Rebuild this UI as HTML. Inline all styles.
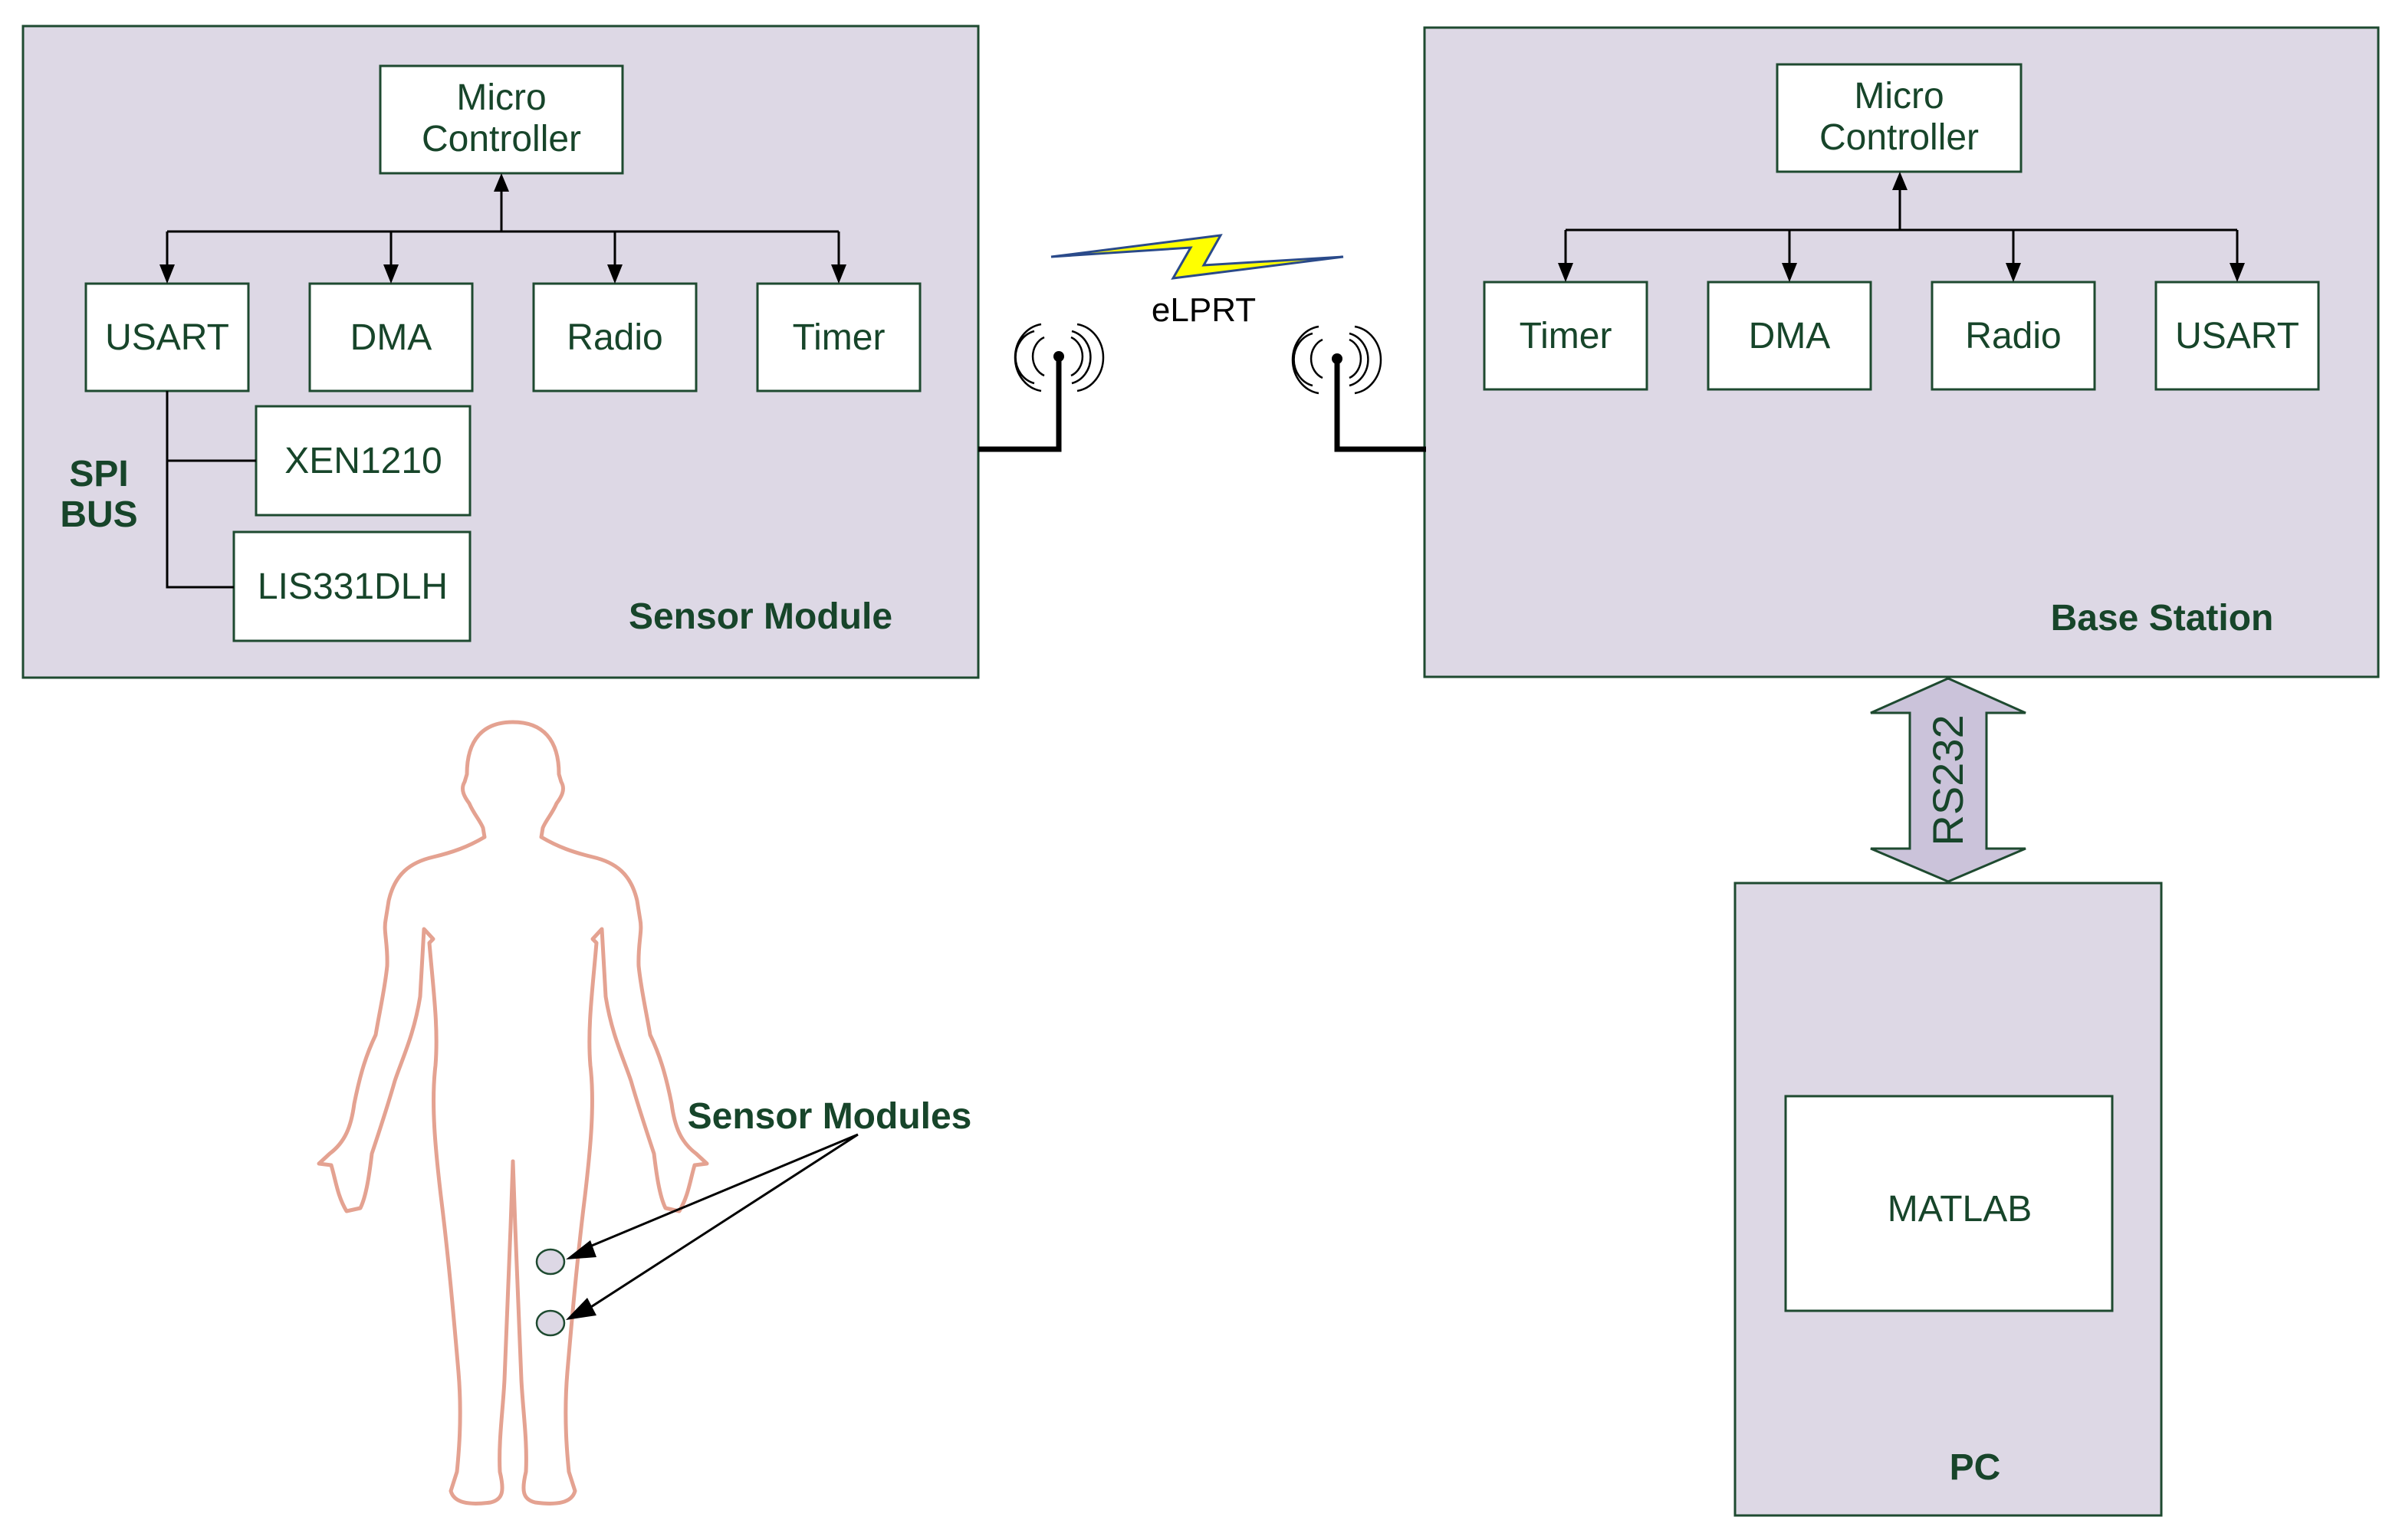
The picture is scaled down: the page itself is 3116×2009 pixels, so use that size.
<!DOCTYPE html>
<html><head><meta charset="utf-8"><style>
html,body{margin:0;padding:0;background:#fff;}
svg{display:block;}
text{font-family:"Liberation Sans",Arial,sans-serif;fill:#17452a;}
</style></head><body>
<svg width="3116" height="2009" viewBox="0 0 3116 2009" xmlns="http://www.w3.org/2000/svg">
<g stroke="#1e4a30" stroke-width="3">
<rect x="30" y="34" width="1246" height="850" fill="#ddd8e5"/>
<rect x="1858" y="36" width="1244" height="847" fill="#ddd8e5"/>
<rect x="2263" y="1152" width="556" height="825" fill="#ddd8e5"/>
<g fill="#fff">
<rect x="496" y="86" width="316" height="140"/>
<rect x="112" y="370" width="212" height="140"/>
<rect x="404" y="370" width="212" height="140"/>
<rect x="696" y="370" width="212" height="140"/>
<rect x="988" y="370" width="212" height="140"/>
<rect x="334" y="530" width="279" height="142"/>
<rect x="305" y="694" width="308" height="142"/>
<rect x="2318" y="84" width="318" height="140"/>
<rect x="1936" y="368" width="212" height="140"/>
<rect x="2228" y="368" width="212" height="140"/>
<rect x="2520" y="368" width="212" height="140"/>
<rect x="2812" y="368" width="212" height="140"/>
<rect x="2329" y="1430" width="426" height="280"/>
</g>
</g>
<g stroke="#000" stroke-width="3" fill="none">
<path d="M218 302 H1094 M654 302 V240 M218 302 V345 M510 302 V345 M802 302 V345 M1094 302 V345"/>
<path d="M218 510 V766 H305 M218 601 H334"/>
<path d="M2042 300 H2918 M2478 300 V238 M2042 300 V343 M2334 300 V343 M2626 300 V343 M2918 300 V343"/>
</g>
<g fill="#000">
<polygon points="654,226 644,250 664,250"/>
<polygon points="218,370 208,345 228,345"/><polygon points="510,370 500,345 520,345"/>
<polygon points="802,370 792,345 812,345"/><polygon points="1094,370 1084,345 1104,345"/>
<polygon points="2478,224 2468,248 2488,248"/>
<polygon points="2042,368 2032,343 2052,343"/><polygon points="2334,368 2324,343 2344,343"/>
<polygon points="2626,368 2616,343 2636,343"/><polygon points="2918,368 2908,343 2928,343"/>
</g>
<g font-size="48" text-anchor="middle">
<text x="654" y="143">Micro</text>
<text x="654" y="197">Controller</text>
<text x="218" y="456">USART</text>
<text x="510" y="456">DMA</text>
<text x="802" y="456">Radio</text>
<text x="1094" y="456">Timer</text>
<text x="474" y="617">XEN1210</text>
<text x="460" y="781">LIS331DLH</text>
<text x="2477" y="141">Micro</text>
<text x="2477" y="195">Controller</text>
<text x="2042" y="454">Timer</text>
<text x="2334" y="454">DMA</text>
<text x="2626" y="454">Radio</text>
<text x="2918" y="454">USART</text>
<text x="2556" y="1593">MATLAB</text>
</g>
<g font-size="48" font-weight="bold" text-anchor="middle">
<text x="129" y="634">SPI</text>
<text x="129" y="687">BUS</text>
<text x="992" y="820">Sensor Module</text>
<text x="2820" y="822">Base Station</text>
<text x="2576" y="1930">PC</text>
<text x="1082" y="1472">Sensor Modules</text>
</g>
<polygon points="1371,335 1592,307 1570,346 1752,335 1530,363 1553,323" fill="#ffff00" stroke="#2a4a8a" stroke-width="3"/>
<text x="1570" y="419" font-size="44" text-anchor="middle" style="fill:#000">eLPRT</text>
<g stroke="#000" fill="none">
<path d="M1276 586 H1381 V468 M1860 586 H1744 V468" stroke-width="7"/>
<g stroke-width="2.5">
<path d="M1358 423 A40 44 0 0 0 1358 510 M1349 432 A32 35 0 0 0 1349 500 M1362 440 A24 27 0 0 0 1362 490"/>
<path d="M1405 423 A40 44 0 0 1 1405 510 M1398 432 A32 35 0 0 1 1398 500 M1397 440 A24 27 0 0 1 1397 490"/>
<path d="M1720 426 A40 44 0 0 0 1720 513 M1712 435 A32 35 0 0 0 1712 503 M1725 443 A24 27 0 0 0 1725 493"/>
<path d="M1767 426 A40 44 0 0 1 1767 513 M1760 435 A32 35 0 0 1 1760 503 M1760 443 A24 27 0 0 1 1760 493"/>
</g>
</g>
<circle cx="1381" cy="465" r="7" fill="#000"/>
<circle cx="1744" cy="468" r="7" fill="#000"/>
<polygon points="2541,885 2642,930 2591,930 2591,1107 2642,1107 2541,1150 2440,1107 2491,1107 2491,930 2440,930" fill="#cbc3da" stroke="#1e4a30" stroke-width="3"/>
<text transform="translate(2560,1018) rotate(-90)" font-size="56" text-anchor="middle">RS232</text>
<g fill="none" stroke="#e4a291" stroke-width="5" stroke-linejoin="round" stroke-linecap="round">
<path id="half" d="M669 942 C630 942 609 965 609 1010 L606 1020 C600 1030 606 1040 612 1048 C618 1062 626 1070 630 1080 L632 1092 C610 1105 590 1112 565 1118 C535 1125 515 1140 507 1175 L503 1200 C500 1215 506 1230 505 1260 C502 1290 495 1320 490 1350 C478 1375 470 1400 462 1440 C458 1470 450 1490 430 1505 L416 1518 L432 1520 C438 1540 440 1560 452 1580 L470 1576 C478 1560 482 1530 485 1505 C495 1475 505 1445 515 1410 C525 1380 540 1350 548 1300 L553 1212 L565 1225 L560 1230 C565 1290 572 1340 568 1390 C562 1440 568 1500 575 1560 C585 1640 592 1720 598 1790 C603 1850 598 1900 596 1920 L588 1945 C592 1960 610 1964 640 1960 C656 1956 658 1945 652 1920 C650 1880 656 1840 658 1800 C660 1740 664 1660 666 1600 L669 1515"/>
<use href="#half" transform="translate(1338,0) scale(-1,1)"/>
</g>
<ellipse cx="718" cy="1646" rx="18" ry="16" fill="#ddd8e5" stroke="#1e4a30" stroke-width="2.5"/>
<ellipse cx="718" cy="1726" rx="18" ry="16" fill="#ddd8e5" stroke="#1e4a30" stroke-width="2.5"/>
<g stroke="#000" stroke-width="3"><path d="M1119 1480 L760 1630 M1119 1480 L760 1712"/></g>
<polygon points="738,1643 770,1618 778,1640" fill="#000"/>
<polygon points="738,1722 766,1693 778,1716" fill="#000"/>
</svg>
</body></html>
